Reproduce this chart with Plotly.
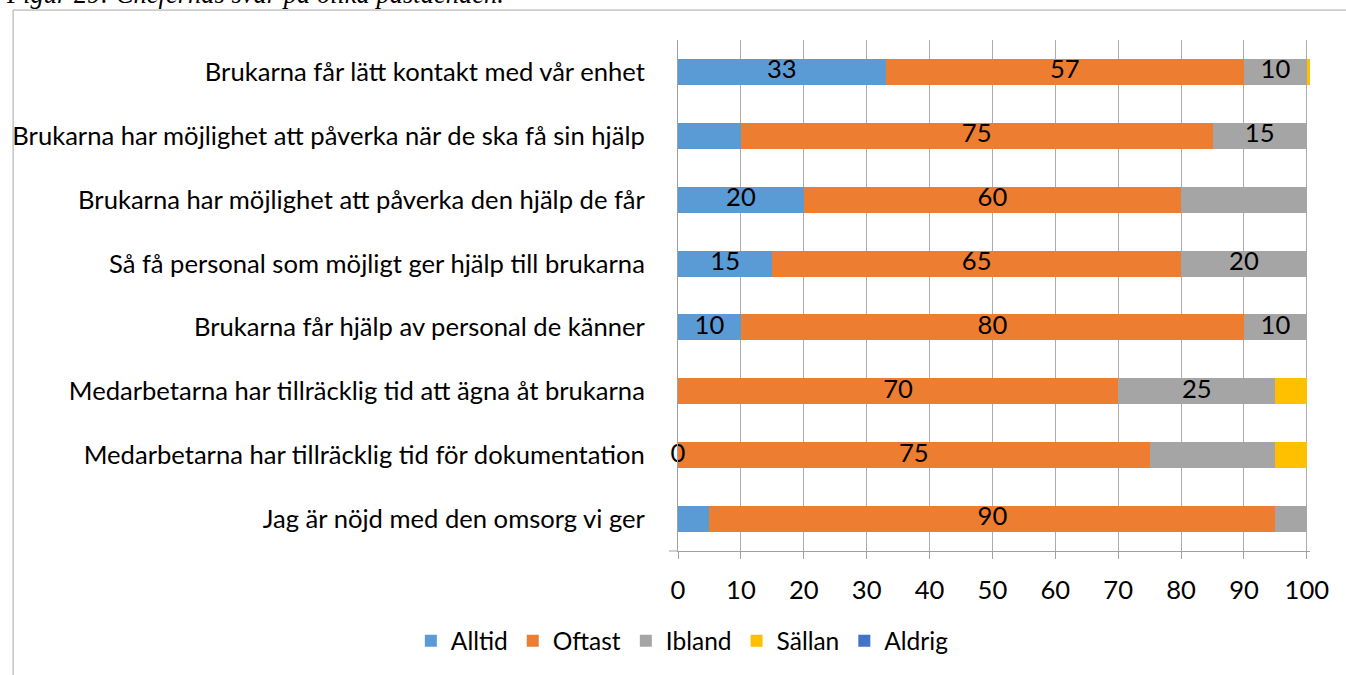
import plotly.graph_objects as go
import numpy as np

categories = [
    "Brukarna får lätt kontakt med vår enhet",
    "Brukarna har möjlighet att påverka när de ska få sin hjälp",
    "Brukarna har möjlighet att påverka den hjälp de får",
    "Så få personal som möjligt ger hjälp till brukarna",
    "Brukarna får hjälp av personal de känner",
    "Medarbetarna har tillräcklig tid att ägna åt brukarna",
    "Medarbetarna har tillräcklig tid för dokumentation",
    "Jag är nöjd med den omsorg vi ger",
]
series_names = ["Alltid", "Oftast", "Ibland", "Sällan", "Aldrig"]
alltid = [33, 10, 20, 15, 10, 0, 0, 5]
oftast = [57, 75, 60, 65, 80, 70, 75, 90]
ibland = [10, 15, 20, 20, 10, 25, 20, 5]
sallan = [0.5, 0, 0, 0, 0, 5, 5, 0]
aldrig = [0, 0, 0, 0, 0, 0, 0, 0]
# which data labels are displayed in the original chart
alltid_label = [1, 0, 1, 1, 1, 0, 1, 0]
oftast_label = [1, 1, 1, 1, 1, 1, 1, 1]
ibland_label = [1, 1, 0, 1, 1, 1, 0, 0]
sallan_label = [0, 0, 0, 0, 0, 0, 0, 0]
aldrig_label = [0, 0, 0, 0, 0, 0, 0, 0]
x_ticks = [0, 10, 20, 30, 40, 50, 60, 70, 80, 90, 100]
caption = "Figur 29: Chefernas svar på olika påståenden."

colors = ["#5B9BD5", "#ED7D31", "#A5A5A5", "#FFC000", "#4472C4"]
FONT = "Lato"
FS = 25.6

values = [alltid, oftast, ibland, sallan, aldrig]
labels = [alltid_label, oftast_label, ibland_label, sallan_label, aldrig_label]

# pixel layout
W, H = 1346, 675
L, T, B = 676, 40, 123
XMAX = 100.5
plot_w = 634
R = W - L - plot_w
plot_h = H - T - B

def px_x(p):
    return (p - L) / plot_w

def px_y(p):
    return (H - B - p) / plot_h

fig = go.Figure()
for name, vals, col in zip(series_names, values, colors):
    fig.add_trace(go.Bar(
        y=categories, x=vals, name=name, orientation="h",
        marker=dict(color=col, line=dict(width=0)),
        hoverinfo="x+name",
    ))

# data labels at the centre of each segment
arr = np.array(values, dtype=float)
cum = np.cumsum(arr, axis=0)
start = cum - arr
for i, (vals, show) in enumerate(zip(values, labels)):
    xs, ys, ts = [], [], []
    for j, (v, s) in enumerate(zip(vals, show)):
        if s:
            xs.append((start[i, j] + cum[i, j]) / 2)
            ys.append(categories[j])
            ts.append(str(int(round(v))))
    if xs:
        fig.add_trace(go.Scatter(
            x=xs, y=ys, text=ts, mode="text", textposition="middle center",
            textfont=dict(family=FONT, size=FS, color="#000000"),
            showlegend=False, hoverinfo="skip", cliponaxis=False,
        ))

fig.update_layout(
    width=W, height=H,
    margin=dict(l=L, r=R, t=T, b=B, pad=0),
    barmode="stack", bargap=0.594,
    plot_bgcolor="white", paper_bgcolor="white",
    font=dict(family=FONT, size=FS, color="#000000"),
    showlegend=True,
    legend=dict(
        orientation="h", x=px_x(408), xanchor="left", y=px_y(642), yanchor="middle",
        font=dict(family=FONT, size=24.5, color="#000000"),
        traceorder="normal", itemclick=False, itemdoubleclick=False,
    ),
    xaxis=dict(
        range=[0, XMAX], tickvals=x_ticks, ticktext=[str(t) for t in x_ticks],
        showgrid=True, gridcolor="#ABABAB", gridwidth=1,
        zeroline=False, showline=True, linecolor="#A0A0A0", linewidth=1,
        ticks="outside", ticklen=7, tickcolor="#A0A0A0", tickwidth=1,
        ticklabelstandoff=9,
        tickfont=dict(family=FONT, size=FS, color="#000000"),
        fixedrange=True,
    ),
    yaxis=dict(
        type="category", categoryorder="array", categoryarray=categories,
        autorange="reversed", showgrid=False, zeroline=False,
        showline=True, linecolor="#A0A0A0", linewidth=1,
        ticks="", ticklabelstandoff=27,
        tickfont=dict(family=FONT, size=FS, color="#000000"),
        fixedrange=True,
    ),
    shapes=[
        # outer chart frame (left and top edges visible)
        dict(type="line", xref="paper", yref="paper", x0=px_x(9), x1=px_x(1400),
             y0=px_y(10), y1=px_y(10), line=dict(color="#A6A6A6", width=1)),
        dict(type="line", xref="paper", yref="paper", x0=px_x(9), x1=px_x(9),
             y0=px_y(10), y1=px_y(700), line=dict(color="#A6A6A6", width=1)),
        # small tick stub at the category axis bottom
        dict(type="line", xref="paper", yref="paper", x0=px_x(667), x1=0,
             y0=0, y1=0, line=dict(color="#A0A0A0", width=1)),
    ],
    annotations=[
        dict(text="<i>" + caption + "</i>", xref="paper", yref="paper",
             x=px_x(0), xanchor="left", y=px_y(11), yanchor="bottom",
             showarrow=False, font=dict(family="Liberation Serif", size=26.5, color="#000000")),
    ],
)

fig.write_html("out.html", config={"displayModeBar": False},
               post_script="document.body.style.margin='0';")
